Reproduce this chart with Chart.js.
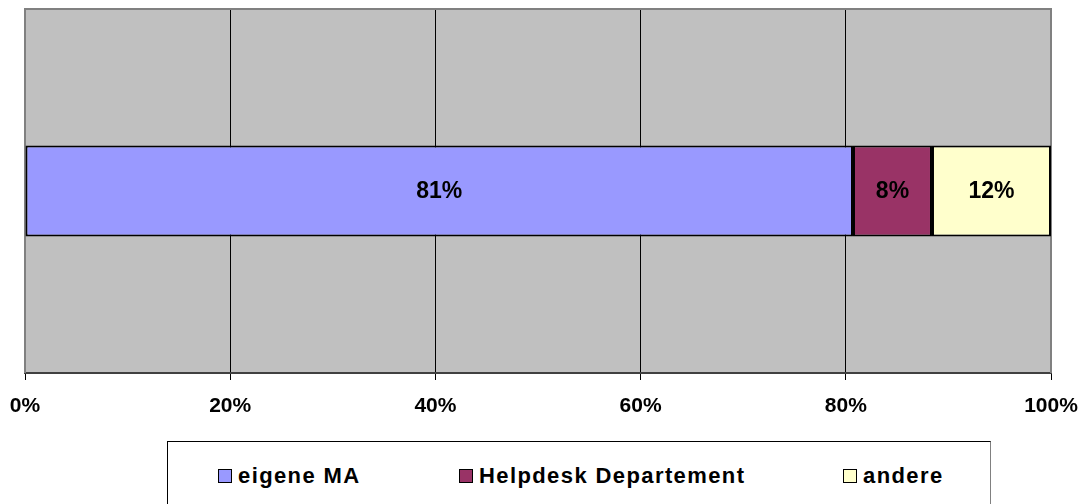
<!DOCTYPE html>
<html>
<head>
<meta charset="utf-8">
<script src="https://cdn.jsdelivr.net/npm/chart.js@4"></script>
<style>
  html, body { margin: 0; padding: 0; background: #fff; overflow: hidden; }
  #wrap { position: relative; width: 1086px; height: 504px; }
  #legend {
    position: absolute; left: 167px; top: 441px; width: 822px; height: 80px;
    border: 1px solid #000; border-right-color: #808080; background: #fff;
  }
  .item {
    position: absolute; top: 22px; height: 24px; line-height: 24px;
    display: flex; align-items: center;
    font: bold 22px Arial, "Liberation Sans", sans-serif; letter-spacing: 1.4px; color: #000;
  }
  .sw { width: 12px; height: 12px; border: 1.5px solid #000; margin-right: 6px; }
</style>
</head>
<body>
<div id="wrap">
  <canvas id="c" width="1086" height="504"></canvas>
  <div id="legend"></div>
</div>
<script>
// Data
const categories = ['Anteil'];
const seriesNames = ['eigene MA', 'Helpdesk Departement', 'andere'];
const eigeneMA = [80.7];
const helpdesk = [7.7];
const andere = [11.6];
const tickValues = [0, 20, 40, 60, 80, 100];
const colors = ['#9999FF', '#993366', '#FFFFCC'];
const legendLefts = [50, 291, 675];

// Legend (HTML)
const legend = document.getElementById('legend');
seriesNames.forEach((name, i) => {
  const it = document.createElement('div');
  it.className = 'item';
  it.style.left = legendLefts[i] + 'px';
  it.innerHTML = '<span class="sw" style="background:' + colors[i] + '"></span><span>' + name + '</span>';
  legend.appendChild(it);
});

// Plot background + frame
const plotBg = {
  id: 'plotBg',
  beforeDraw(chart) {
    const { ctx, chartArea: a } = chart;
    ctx.save();
    ctx.fillStyle = '#C0C0C0';
    ctx.fillRect(a.left, a.top, a.right - a.left, a.bottom - a.top);
    ctx.restore();
  },
  beforeDatasetsDraw(chart) {
    const { ctx, chartArea: a } = chart;
    ctx.save();
    ctx.strokeStyle = '#808080';
    ctx.lineWidth = 2;
    ctx.beginPath();
    ctx.moveTo(a.left, a.bottom);
    ctx.lineTo(a.left, a.top);
    ctx.lineTo(a.right, a.top);
    ctx.lineTo(a.right, a.bottom);
    ctx.stroke();
    ctx.restore();
  }
};

// Value labels
const barLabels = {
  id: 'barLabels',
  afterDatasetsDraw(chart) {
    const { ctx } = chart;
    ctx.save();
    ctx.font = 'bold 23px Arial, "Liberation Sans", sans-serif';
    ctx.fillStyle = '#000';
    ctx.textAlign = 'center';
    ctx.textBaseline = 'middle';
    chart.data.datasets.forEach((ds, i) => {
      chart.getDatasetMeta(i).data.forEach((bar, j) => {
        const p = bar.getProps(['x', 'base', 'y'], true);
        ctx.fillText(Math.round(ds.data[j]) + '%', (p.x + p.base) / 2, p.y + 1);
      });
    });
    ctx.restore();
  }
};

const data = [eigeneMA, helpdesk, andere];
new Chart(document.getElementById('c'), {
  type: 'bar',
  data: {
    labels: categories,
    datasets: seriesNames.map((name, i) => ({
      label: name,
      data: data[i],
      backgroundColor: colors[i],
      borderColor: '#000',
      borderWidth: 2,
      borderSkipped: false,
      barPercentage: 0.25,
      categoryPercentage: 1
    }))
  },
  options: {
    indexAxis: 'y',
    responsive: false,
    animation: false,
    layout: { padding: { left: 25, right: 35, top: 9, bottom: 0 } },
    plugins: { legend: { display: false }, tooltip: { enabled: false } },
    scales: {
      x: {
        stacked: true,
        min: 0, max: 100,
        afterBuildTicks: s => { s.ticks = tickValues.map(v => ({ value: v })); },
        afterFit: s => { s.height = 131; s.paddingLeft = 0; s.paddingRight = 0; },
        ticks: {
          callback: v => v + '%',
          color: '#000',
          padding: 14,
          maxRotation: 0,
          font: { family: 'Arial, "Liberation Sans", sans-serif', size: 21, weight: 'bold' }
        },
        grid: {
          color: c => (c.tick && (c.tick.value === 0 || c.tick.value === 100)) ? '#808080' : '#000',
          lineWidth: 1,
          tickColor: '#000',
          tickLength: 7
        },
        border: { display: true, color: '#404040', width: 2 }
      },
      y: { stacked: true, display: false }
    }
  },
  plugins: [plotBg, barLabels]
});
</script>
</body>
</html>
